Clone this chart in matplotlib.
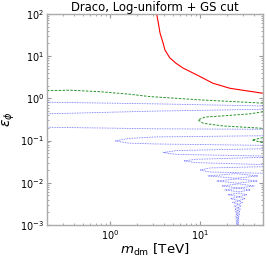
import numpy as np
import matplotlib
matplotlib.use('Agg')
import matplotlib.pyplot as plt

# Limite (linha vermelha)
red_x = [3.3, 3.45, 3.6, 3.85, 4.08, 4.6, 5.4, 6.5, 9.2, 13.9, 21.5, 50]
red_y = [100, 60, 35, 22, 14, 9.2, 6.8, 5.2, 3.6, 2.28, 1.73, 1.32]

# Contornos verdes
green1_x = [0.2, 0.36, 0.77, 1.67, 2.78, 10, 50]
green1_y = [1.52, 1.56, 1.44, 1.25, 1.10, 0.92, 0.77]
green2_x = [50, 35.9, 16.7, 11.4, 9.5, 10.8, 18, 50]
green2_y = [0.48, 0.43, 0.38, 0.36, 0.31, 0.257, 0.222, 0.195]
green3_x = [50, 37.8, 50]
green3_y = [0.117, 0.103, 0.089]

# Contornos azuis abertos (chegam na borda direita)
blue_open_x = [
    [0.2, 3.3, 50],
    [0.2, 3.3, 50],
    [0.2, 3.2, 50],
    [50, 3.24, 1.6, 1.14, 1.6, 3.24, 50],
    [50, 5.5, 3.9, 5.5, 50],
    [50, 9.0, 6.6, 9.0, 50],
    [50, 13.0, 10.0, 13.0, 50],
]
blue_open_y = [
    [0.81, 0.74, 0.66],
    [0.43, 0.50, 0.55],
    [0.207, 0.19, 0.185],
    [0.13, 0.122, 0.112, 0.098, 0.087, 0.083, 0.077],
    [0.064, 0.058, 0.052, 0.047, 0.043],
    [0.040, 0.036, 0.033, 0.030, 0.027],
    [0.024, 0.0225, 0.0201, 0.0180, 0.0168],
]

# Linguas azuis fechadas (ressonancias)
tip_x = [12.3, 15.4, 17.5, 18.9, 20.5, 21.8, 23.0, 24.0, 24.4, 24.6, 24.8, 24.9, 25.0, 25.1, 25.2, 25.2]
tip_y = [0.0145, 0.011, 0.0084, 0.00675, 0.0052, 0.0042, 0.0034, 0.0028, 0.00237, 0.00205,
         0.00178, 0.00157, 0.0014, 0.00125, 0.00113, 0.00102]
knee_x = [25, 26, 27, 27, 27, 27, 27, 26.5, 26.3, 26.2, 26.1, 26, 26, 26, 26, 26]
top_y = [0.0165, 0.0124, 0.0094, 0.0075, 0.0057, 0.0046, 0.0037, 0.00305, 0.00256, 0.0022,
         0.0019, 0.00167, 0.00148, 0.00132, 0.00119, 0.00108]
bot_y = [0.0128, 0.0098, 0.0075, 0.0061, 0.0047, 0.0038, 0.0031, 0.00257, 0.0022, 0.0019,
         0.00167, 0.00148, 0.00132, 0.00119, 0.00107, 0.00097]
end_x = [44, 43, 40, 36, 33, 31.5, 29.5, 28.5, 28, 27.6, 27.4, 27.2, 27, 26.9, 26.8, 26.7]

fig = plt.figure(figsize=(2.67, 2.58), dpi=100)
ax = fig.add_axes([0.176, 0.128, 0.809, 0.818])

blue_ls = (0, (1, 1))
for xs, ys in zip(blue_open_x, blue_open_y):
    ax.plot(xs, ys, color='b', ls=blue_ls, lw=0.6, alpha=0.6)
for i in range(len(tip_x)):
    xs = [end_x[i], knee_x[i], tip_x[i], knee_x[i], end_x[i]]
    ys = [tip_y[i], top_y[i], tip_y[i], bot_y[i], tip_y[i]]
    ax.plot(xs, ys, color='b', ls=blue_ls, lw=0.6, alpha=0.6)

for xs, ys in [(green1_x, green1_y), (green2_x, green2_y), (green3_x, green3_y)]:
    ax.plot(xs, ys, color='g', ls=(0, (2.5, 1.5)), lw=0.7, alpha=0.85)

ax.plot(red_x, red_y, color='r', lw=0.8)

ax.set_xscale('log')
ax.set_yscale('log')
ax.set_xlim(0.2, 50)
ax.set_ylim(1e-3, 1e2)
ax.set_title('Draco, Log-uniform + GS cut', fontsize=8.4, pad=2)
ax.set_xlabel(r'$m_{\rm dm}$ [TeV]', fontsize=9.6, labelpad=0)
ax.set_ylabel(r'$\epsilon_\phi$', fontsize=10, labelpad=2)
ax.tick_params(which='both', direction='in', top=True, right=True, color='#999999', labelsize=7)
ax.tick_params(which='major', length=3, pad=2)
ax.tick_params(which='minor', length=1.5)
for s in ax.spines.values():
    s.set_color('#aaaaaa')
    s.set_linewidth(1.0)

fig.savefig('out.png', dpi=100)
